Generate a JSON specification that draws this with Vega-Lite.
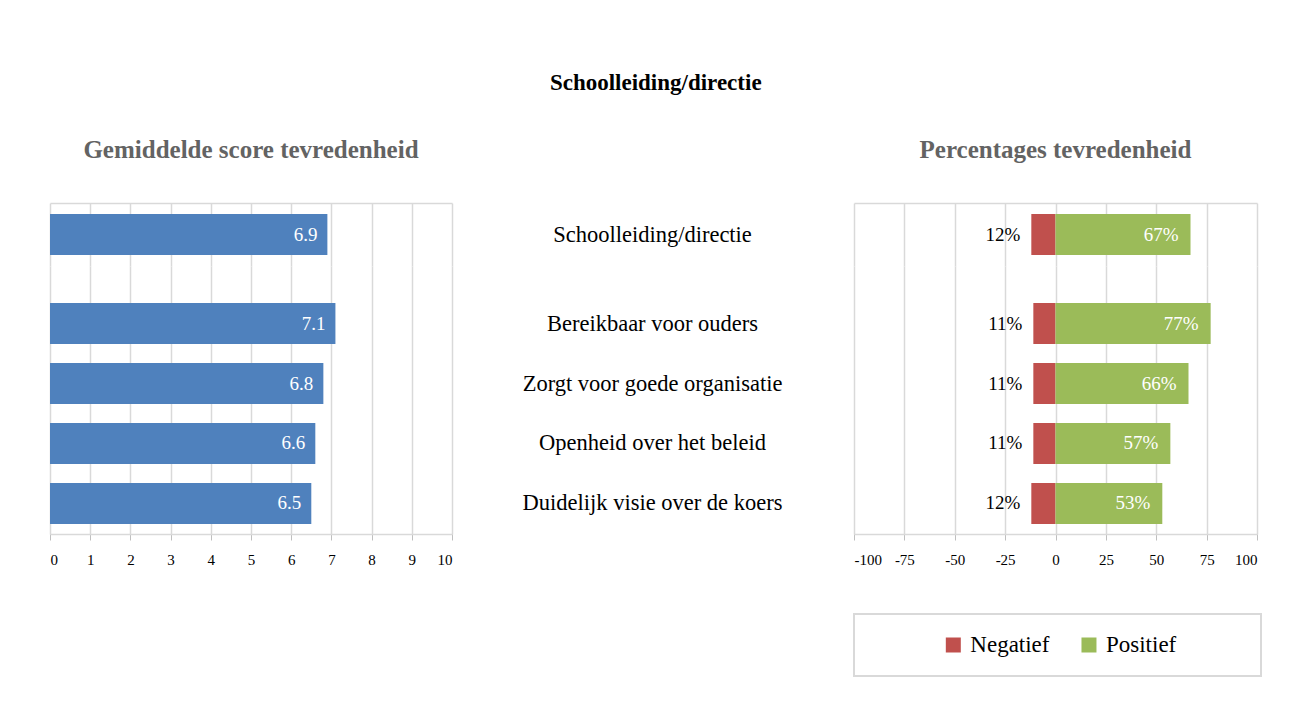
{
  "$schema": "https://vega.github.io/schema/vega-lite/v6.json",
  "background": "white",
  "padding": {"left": 49, "top": 72, "right": 5, "bottom": 5},
  "bounds": "flush",
  "title": {"text": "Schoolleiding/directie", "font": "Liberation Serif", "fontSize": 23, "fontWeight": "bold", "color": "black", "anchor": "middle", "offset": 43},
  "datasets": {
    "d": [
      {"item": "Schoolleiding/directie", "group": "top", "score": 6.9, "neg": 12, "pos": 67},
      {"item": "Bereikbaar voor ouders", "group": "items", "score": 7.1, "neg": 11, "pos": 77},
      {"item": "Zorgt voor goede organisatie", "group": "items", "score": 6.8, "neg": 11, "pos": 66},
      {"item": "Openheid over het beleid", "group": "items", "score": 6.6, "neg": 11, "pos": 57},
      {"item": "Duidelijk visie over de koers", "group": "items", "score": 6.5, "neg": 12, "pos": 53}
    ],
    "legend": [{"type": "Negatief"}, {"type": "Positief"}],
    "blank": [{}]
  },
  "config": {
    "view": {"stroke": null},
    "font": "Liberation Serif",
    "axis": {"labelFont": "Liberation Serif", "labelColor": "black", "gridColor": "#d9d9d9", "domainColor": "#d9d9d9", "tickColor": "#bfbfbf", "gridWidth": 1.5, "domainWidth": 1.5}
  },
  "columns": 2,
  "spacing": {"row": 0, "column": 402},
  "concat": [
    {
      "title": {"text": "Gemiddelde score tevredenheid", "font": "Liberation Serif", "fontSize": 25, "fontWeight": "bold", "color": "#636363", "anchor": "middle", "offset": 40},
      "width": 402, "height": 63,
      "data": {"name": "d"},
      "transform": [{"filter": "datum.group == 'top'"}],
      "encoding": {
        "y": {"field": "item", "type": "nominal", "sort": null, "axis": null, "scale": {"paddingInner": 0.3167, "paddingOuter": 0.183}},
        "x": {"field": "score", "type": "quantitative", "scale": {"domain": [0, 10]},
              "axis": {"orient": "top", "values": [0,1,2,3,4,5,6,7,8,9,10], "labels": false, "ticks": false, "domain": true, "grid": true, "title": null}}
      },
      "layer": [
        {"mark": {"type": "bar", "color": "#4F81BD"}},
        {"mark": {"type": "text", "align": "right", "dx": -10, "color": "white", "fontSize": 19}, "encoding": {"text": {"field": "score", "format": ".1f"}}}
      ]
    },
    {
      "title": {"text": "Percentages tevredenheid", "font": "Liberation Serif", "fontSize": 25, "fontWeight": "bold", "color": "#636363", "anchor": "middle", "offset": 40},
      "width": 403, "height": 63,
      "data": {"name": "d"},
      "transform": [{"filter": "datum.group == 'top'"}, {"calculate": "-datum.neg", "as": "negx"}, {"calculate": "datum.neg + '%'", "as": "negLabel"}, {"calculate": "datum.pos + '%'", "as": "posLabel"}],
      "encoding": {
        "y": {"field": "item", "type": "nominal", "sort": null, "title": null, "scale": {"paddingInner": 0.3167, "paddingOuter": 0.183},
              "axis": {"orient": "left", "labelAlign": "center", "labelPadding": 202, "labelLimit": 500, "labelFontSize": 22.5, "domain": false, "ticks": false, "grid": false}}
      },
      "layer": [
        {"mark": {"type": "bar", "color": "#C0504D"}, "encoding": {"x": {"field": "negx", "type": "quantitative", "scale": {"domain": [-100, 100]},
          "axis": {"orient": "top", "values": [-100,-75,-50,-25,0,25,50,75,100], "labels": false, "ticks": false, "domain": true, "grid": true, "title": null}}, "x2": {"datum": 0}}},
        {"mark": {"type": "bar", "color": "#9BBB59"}, "encoding": {"x": {"field": "pos", "type": "quantitative"}, "x2": {"datum": 0}}},
        {"mark": {"type": "text", "align": "right", "dx": -11, "color": "black", "fontSize": 19}, "encoding": {"x": {"field": "negx", "type": "quantitative"}, "text": {"field": "negLabel"}}},
        {"mark": {"type": "text", "align": "right", "dx": -12, "color": "white", "fontSize": 19}, "encoding": {"x": {"field": "pos", "type": "quantitative"}, "text": {"field": "posLabel"}}}
      ]
    },
    {
      "width": 402, "height": 268,
      "data": {"name": "d"},
      "transform": [{"filter": "datum.group == 'items'"}],
      "encoding": {
        "y": {"field": "item", "type": "nominal", "sort": null, "axis": null, "scale": {"paddingInner": 0.3167, "paddingOuter": 0.392, "align": 0.787}},
        "x": {"field": "score", "type": "quantitative", "scale": {"domain": [0, 10]},
              "axis": {"orient": "bottom", "values": [0,1,2,3,4,5,6,7,8,9,10], "labelFontSize": 15, "tickSize": 6, "labelPadding": 12, "domain": true, "grid": true, "title": null}}
      },
      "layer": [
        {"mark": {"type": "bar", "color": "#4F81BD"}},
        {"mark": {"type": "text", "align": "right", "dx": -10, "color": "white", "fontSize": 19}, "encoding": {"text": {"field": "score", "format": ".1f"}}}
      ]
    },
    {
      "width": 403, "height": 268,
      "data": {"name": "d"},
      "transform": [{"filter": "datum.group == 'items'"}, {"calculate": "-datum.neg", "as": "negx"}, {"calculate": "datum.neg + '%'", "as": "negLabel"}, {"calculate": "datum.pos + '%'", "as": "posLabel"}],
      "encoding": {
        "y": {"field": "item", "type": "nominal", "sort": null, "title": null, "scale": {"paddingInner": 0.3167, "paddingOuter": 0.392, "align": 0.787},
              "axis": {"orient": "left", "labelAlign": "center", "labelPadding": 202, "labelLimit": 500, "labelFontSize": 22.5, "domain": false, "ticks": false, "grid": false}}
      },
      "layer": [
        {"mark": {"type": "bar", "color": "#C0504D"}, "encoding": {"x": {"field": "negx", "type": "quantitative", "scale": {"domain": [-100, 100]},
          "axis": {"orient": "bottom", "values": [-100,-75,-50,-25,0,25,50,75,100], "labelExpr": "'' + datum.value", "labelFontSize": 15, "tickSize": 6, "labelPadding": 12, "domain": true, "grid": true, "title": null}}, "x2": {"datum": 0}}},
        {"mark": {"type": "bar", "color": "#9BBB59"}, "encoding": {"x": {"field": "pos", "type": "quantitative"}, "x2": {"datum": 0}}},
        {"mark": {"type": "text", "align": "right", "dx": -11, "color": "black", "fontSize": 19}, "encoding": {"x": {"field": "negx", "type": "quantitative"}, "text": {"field": "negLabel"}}},
        {"mark": {"type": "text", "align": "right", "dx": -12, "color": "white", "fontSize": 19}, "encoding": {"x": {"field": "pos", "type": "quantitative"}, "text": {"field": "posLabel"}}}
      ]
    },
    {"width": 402, "height": 80, "data": {"name": "blank"}, "mark": {"type": "text", "text": ""}, "encoding": {}},
    {"width": 403, "height": 80, "data": {"name": "blank"}, "mark": {"type": "text", "text": ""}, "encoding": {}},
    {"width": 402, "height": 62, "data": {"name": "blank"}, "mark": {"type": "text", "text": ""}, "encoding": {}},
    {
      "width": 407, "height": 62,
      "view": {"stroke": "#d9d9d9", "strokeWidth": 2},
      "data": {"name": "legend"},
      "encoding": {
        "x": {"field": "type", "type": "nominal", "sort": null, "axis": null, "scale": {"type": "point", "padding": 1.141, "align": 0.366}}
      },
      "layer": [
        {"mark": {"type": "point", "shape": "square", "filled": true, "size": 225, "opacity": 1},
         "encoding": {"color": {"field": "type", "type": "nominal", "legend": null, "scale": {"domain": ["Negatief", "Positief"], "range": ["#C0504D", "#9BBB59"]}}}},
        {"mark": {"type": "text", "align": "left", "dx": 17, "fontSize": 23, "color": "black"}, "encoding": {"text": {"field": "type"}}}
      ]
    }
  ]
}
